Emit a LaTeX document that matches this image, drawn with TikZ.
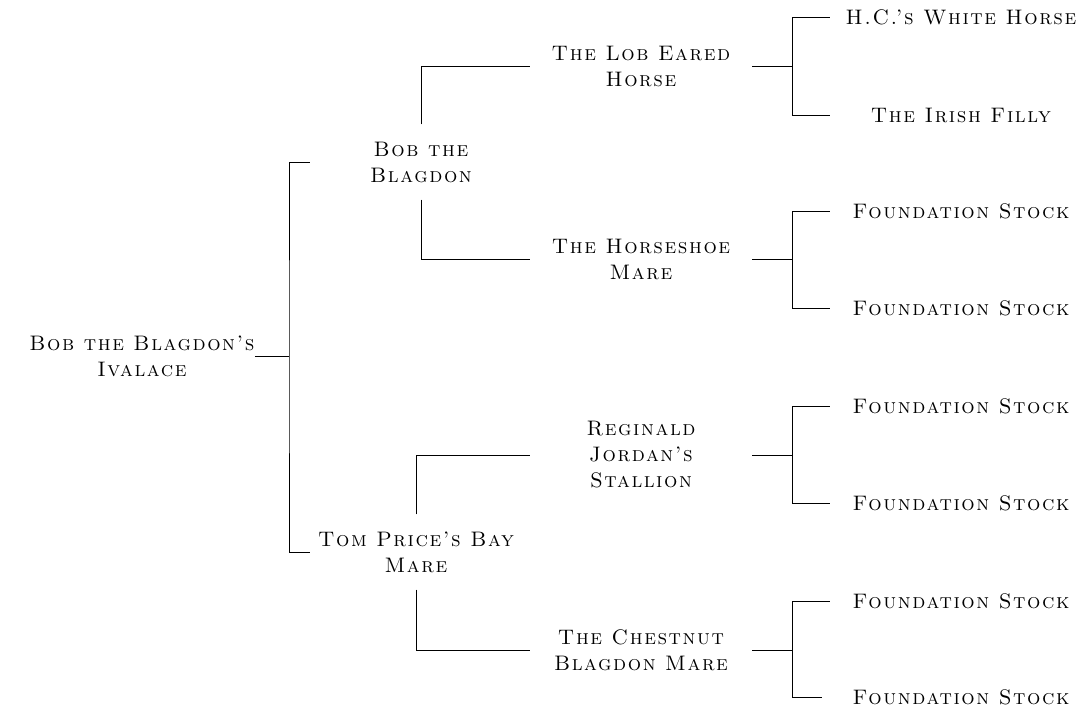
\documentclass[tikz,border=0pt]{standalone}
\usepackage{fontspec}
\setmainfont{Latin Modern Roman}[LetterSpace=7.5, SmallCapsFont={Latin Modern Roman Caps}, SmallCapsFeatures={LetterSpace=7.5}]
\usepackage{tikz}

\tikzset{
  horse/.style={align=center, font=\fontsize{21}{26}\selectfont\scshape, inner sep=0pt},
  sire/.style={horse, minimum width=222pt, inner ysep=17pt},
  dam/.style={horse, minimum width=222pt},
  stock/.style={horse, minimum width=262pt},
  link/.style={line width=0.9pt}
}

\begin{document}
\begin{tikzpicture}[x=1pt, y=-1pt]
	\useasboundingbox (0,0) rectangle (1081,707);
	% horses
	\node[horse] at (142,356)(root){Bob the Blagdon's\\Ivalace};
	\node[sire] at (421,162)(bob){Bob the\\Blagdon};
	\node[sire, minimum width=212pt] at (416,552)(tom){Tom Price's Bay\\Mare};
	\node[dam] at (641,66)(lob){The Lob Eared\\Horse};
	\node[dam] at (641,259)(shoe){The Horseshoe\\Mare};
	\node[dam] at (641,455)(reg){Reginald\\Jordan's\\Stallion};
	\node[dam] at (641,650)(chest){The Chestnut\\Blagdon Mare};
	\node[stock] at (961,17)(hc){H.C.'s White Horse};
	\node[stock] at (961,115)(irish){The Irish Filly};
	\node[stock] at (961,211)(fa){Foundation Stock};
	\node[stock] at (961,308)(fb){Foundation Stock};
	\node[stock] at (961,406)(fc){Foundation Stock};
	\node[stock] at (961,503)(fd){Foundation Stock};
	\node[stock] at (961,601)(fe){Foundation Stock};
	\node[stock] at (961,697)(ff){Foundation Stock};
	% lines
	\coordinate (rootfork) at (289,356);
	\draw[link] (root.east) -- (rootfork);
	\draw[link] (bob.west) -| (rootfork) |- (tom.west);
	\draw[link] (bob.north) |- (lob.west);
	\draw[link] (bob.south) |- (shoe.west);
	\draw[link] (tom.north) |- (reg.west);
	\draw[link] (tom.south) |- (chest.west);
	\draw[link] (lob.east) -- ++(40,0) coordinate(lobfork);
	\draw[link] (hc.west) -| (lobfork) |- (irish.west);
	\draw[link] (shoe.east) -- ++(40,0) coordinate(shoefork);
	\draw[link] (fa.west) -| (shoefork) |- (fb.west);
	\draw[link] (reg.east) -- ++(40,0) coordinate(regfork);
	\draw[link] (fc.west) -| (regfork) |- (fd.west);
	\draw[link] (chest.east) -- ++(40,0) coordinate(chestfork);
	\draw[link, shorten >=8pt] (fe.west) -| (chestfork) |- (ff.west);
\end{tikzpicture}
\end{document}
